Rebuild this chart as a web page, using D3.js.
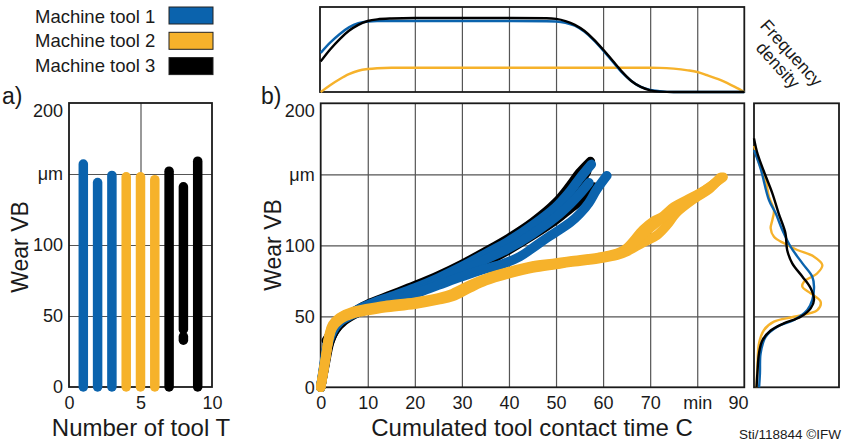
<!DOCTYPE html>
<html>
<head>
<meta charset="utf-8">
<script src="https://cdn.jsdelivr.net/npm/d3@7"></script>
<style>
  body { margin: 0; background: #fff; }
  text { font-family: "Liberation Sans", Arial, sans-serif; fill: #1a1a1a; }
</style>
</head>
<body>
<svg id="chart" width="843" height="441"></svg>
<script>
// machines and colours
const machines = ["Machine tool 1", "Machine tool 2", "Machine tool 3"];
const machineColors = ["#0b63ad", "#f6b22b", "#000000"];

// a) wear range per tool (µm), tool number -> machine
const toolNumbers = [1, 2, 3, 4, 5, 6, 7, 8, 9];
const toolMachine = [0, 0, 0, 1, 1, 1, 2, 2, 2];
const toolWearRanges = [
  [[0, 157]], [[0, 144]], [[0, 149]],
  [[0, 148]], [[0, 148]], [[0, 146]],
  [[0, 152]], [[33, 35.5], [40.5, 141]], [[0, 159]]
];

// b) wear VB over cumulated contact time [min, µm]
const tool1 = [[0,0],[0.8,18],[1.5,32],[2.5,41],[4,47],[6,51],[8,55],[10,58],[15,64],[20,70],[25,77],[30,85],[35,94],[40,103],[45,114],[50,127],[53,138],[55,147],[57.5,157]];
const tool2 = [[0,0],[0.8,16],[1.5,30],[2.5,39],[4,46],[6,50],[8,53],[10,56],[15,62],[20,67],[25,74],[30,82],[35,90],[40,98],[45,108],[50,120],[53,129],[55,136],[57,144]];
const tool3 = [[0,0],[0.8,17],[1.5,31],[2.5,40],[4,46],[6,51],[8,54],[10,56],[15,61],[20,66],[25,72],[30,78],[34.5,83],[38.8,87],[42.3,92],[45,98],[48,105],[53,116],[55,122],[57,130],[58.6,139],[60.8,149]];
const tool4 = [[0,0],[0.5,10],[1,20],[1.8,37],[2.5,44],[4,49],[7,53.5],[10,55.5],[13.6,57.5],[20,60],[25,63],[28,66],[31.7,72],[35,76.5],[40,81.5],[45,85.5],[50,87.5],[53,89],[59,91.5],[63,94.5],[65,98],[68.5,111],[70.7,117],[72.5,120],[75,127],[79,134],[82.7,141],[85,148]];
const tool5 = [[0,0],[0.5,9],[1,19],[1.8,35],[2.5,42],[4,47.5],[7,52],[10,54],[13.6,56],[20,58.5],[25,61.5],[28,64],[31.7,70],[35,75],[40,80],[45,84],[50,86.5],[53,88],[59,90.5],[63,93],[65,95.5],[68.5,102],[71.4,107],[73.5,114],[75.6,123],[79,132],[82.7,140],[84.5,146]];
const tool6 = [[0,0],[0.5,10],[1,20],[1.8,36],[2.5,43],[4,48.5],[7,53],[10,55],[13.6,57],[20,59.5],[25,62.5],[28,65],[31.7,71],[35,76],[40,81],[45,85],[50,87],[53,88.5],[59,91],[63,94],[65,97],[68.5,108],[71,115],[75,125],[79,133],[83,142],[85.5,148]];
const tool7 = [[0,0],[0.8,14],[2,33],[3,40],[5,47],[8,53],[10,56],[15,62],[20,68],[25,75],[30,83],[35,92],[40,101],[45,111],[50,124],[53,135],[55,144],[56.5,152]];
const tool8 = [[1.2,33],[1.8,36],[2.5,41],[4,46],[6,50],[8,53],[10,55],[15,61],[20,67],[25,73],[30,80],[35,88],[40,97],[45,107],[50,118],[53,126],[55,131],[58,141]];
const tool9 = [[0,0],[0.8,15],[1.5,28],[3,40],[5,48],[8,55],[10,58.5],[15,65],[20,71.5],[25,78.5],[30,86.5],[35,95.5],[40,105],[45,116],[50,130],[53,142],[55,151],[57.3,159]];

// frequency density of contact time (top)
const densTime = [0,2,4,6,8,10,12,15,20,30,40,48,50,52,54,56,58,60,62,64,66,68,70,72,75,78,80,82,85,88,90];
const densTimeMT1 = [.46,.58,.68,.76,.81,.83,.835,.835,.835,.835,.835,.833,.83,.815,.78,.71,.61,.49,.36,.23,.13,.06,.025,.01,0,0,0,0,0,0,0];
const densTimeMT2 = [0,.08,.15,.21,.25,.27,.28,.285,.285,.285,.285,.285,.285,.285,.285,.285,.285,.285,.285,.285,.285,.285,.285,.284,.275,.255,.235,.2,.14,.06,0];
const densTimeMT3 = [.36,.5,.62,.72,.79,.835,.855,.865,.87,.87,.87,.868,.86,.835,.79,.72,.62,.5,.37,.24,.13,.06,.02,.005,0,0,0,0,0,0,0];

// frequency density of wear (right) [wear, density]
const densWearMT1 = [[0,.06],[10,.07],[24,.078],[35.6,.137],[42.7,.275],[47.4,.47],[54.4,.627],[61.5,.686],[70.8,.706],[77.9,.686],[87.3,.57],[99,.43],[110.8,.333],[122.5,.255],[131.9,.176],[154,.078],[167,0]];
const densWearMT2 = [[0,.03],[14.5,.04],[31,.059],[40.4,.118],[46.2,.235],[49.7,.47],[54.4,.745],[60.3,.784],[66.2,.667],[70.8,.569],[74.4,.588],[80.3,.745],[86.1,.804],[92,.706],[96.7,.51],[101.4,.353],[106,.235],[112,.196],[117.8,.216],[124.9,.235],[134.2,.176],[146,.137],[157.7,.06],[170,0]];
const densWearMT3 = [[0,.03],[10,.04],[24,.059],[33,.098],[40,.196],[45,.35],[49.7,.55],[55.6,.667],[61.5,.706],[69.7,.667],[77.9,.57],[87.3,.45],[96.7,.39],[108.5,.37],[122.5,.29],[136.6,.216],[151.8,.118],[164.8,.04],[175.3,0]];

const svg = d3.select("#chart");
svg.append("rect").attr("width", 843).attr("height", 441).attr("fill", "#fff");

const gridColor = "#555";
const tickFont = 18;

// helper: grid lines with an axis, no labels
function grid(g, axis) {
  g.call(axis.tickFormat(""));
  g.select(".domain").remove();
  g.selectAll("line").attr("stroke", gridColor).attr("stroke-width", 1.2);
}
function frame(x0, y0, x1, y1) {
  svg.append("rect").attr("x", x0).attr("y", y0)
    .attr("width", x1 - x0).attr("height", y1 - y0)
    .attr("fill", "none").attr("stroke", "#1a1a1a").attr("stroke-width", 1.8);
}
function labels(g) {
  g.select(".domain").remove();
  g.attr("font-size", tickFont).attr("font-family", "Liberation Sans, Arial, sans-serif");
  g.selectAll("text").attr("fill", "#1a1a1a");
}

// ---------- legend ----------
machines.forEach((m, i) => {
  svg.append("text").attr("x", 35).attr("y", 22.5 + i * 24.7)
    .attr("font-size", 18.5).text(m);
  svg.append("rect").attr("x", 169).attr("y", 7 + i * 25.3)
    .attr("width", 44).attr("height", 17)
    .attr("fill", machineColors[i]).attr("stroke", "#222").attr("stroke-width", 1);
});

// ---------- a) ----------
const xA = d3.scaleLinear().domain([0, 10]).range([69, 212]);
const yA = d3.scaleLinear().domain([0, 200]).range([387, 103]);

svg.append("g").attr("transform", "translate(69,0)")
  .call(grid, d3.axisLeft(yA).tickValues([50, 100, 150]).tickSize(-(212 - 69)));
svg.append("g").attr("transform", "translate(0,387)")
  .call(grid, d3.axisBottom(xA).tickValues([5]).tickSize(-(387 - 103)));
frame(69, 103, 212, 387);

toolNumbers.forEach((t, i) => {
  toolWearRanges[i].forEach(r => {
    svg.append("line")
      .attr("x1", xA(t)).attr("x2", xA(t))
      .attr("y1", yA(r[0])).attr("y2", yA(r[1]))
      .attr("stroke", machineColors[toolMachine[i]])
      .attr("stroke-width", 9.5).attr("stroke-linecap", "round");
  });
});

const yAxisA = svg.append("g").attr("transform", "translate(69,0)")
  .call(d3.axisLeft(yA).tickValues([0, 50, 100, 150, 200])
    .tickFormat(d => d === 150 ? "μm" : d).tickSize(0).tickPadding(6));
labels(yAxisA);
yAxisA.selectAll("text").filter(d => d === 200).attr("dy", "0.76em");

const xAxisA = svg.append("g").attr("transform", "translate(0,387)")
  .call(d3.axisBottom(xA).tickValues([0, 5, 10]).tickSize(0).tickPadding(9));
labels(xAxisA);

svg.append("text").attr("transform", "translate(28,247) rotate(-90)")
  .attr("text-anchor", "middle").attr("font-size", 23).text("Wear VB");
svg.append("text").attr("x", 141).attr("y", 436)
  .attr("text-anchor", "middle").attr("font-size", 24).text("Number of tool T");
svg.append("text").attr("x", 2).attr("y", 104).attr("font-size", 23).text("a)");

// ---------- b) main ----------
const xB = d3.scaleLinear().domain([0, 90]).range([320.7, 744.3]);
const yB = d3.scaleLinear().domain([0, 200]).range([387.3, 103.3]);

svg.append("g").attr("transform", "translate(320.7,0)")
  .call(grid, d3.axisLeft(yB).tickValues([50, 100, 150]).tickSize(-(744.3 - 320.7)));
svg.append("g").attr("transform", "translate(0,387.3)")
  .call(grid, d3.axisBottom(xB).tickValues(d3.range(10, 90, 10)).tickSize(-(387.3 - 103.3)));
frame(320.7, 103.3, 744.3, 387.3);

const wearLine = d3.line()
  .x(d => xB(d[0])).y(d => yB(d[1]))
  .curve(d3.curveCatmullRom.alpha(0.5));

const curves = [
  { data: tool7, m: 2 }, { data: tool8, m: 2 }, { data: tool9, m: 2 },
  { data: tool1, m: 0 }, { data: tool2, m: 0 }, { data: tool3, m: 0 },
  { data: tool4, m: 1 }, { data: tool5, m: 1 }, { data: tool6, m: 1 }
];
svg.append("g").selectAll("path").data(curves).join("path")
  .attr("d", d => wearLine(d.data))
  .attr("fill", "none")
  .attr("stroke", d => machineColors[d.m])
  .attr("stroke-width", 9.5)
  .attr("stroke-linecap", "round").attr("stroke-linejoin", "round");

const yAxisB = svg.append("g").attr("transform", "translate(320.7,0)")
  .call(d3.axisLeft(yB).tickValues([0, 50, 100, 150, 200])
    .tickFormat(d => d === 150 ? "μm" : d).tickSize(0).tickPadding(6));
labels(yAxisB);
yAxisB.selectAll("text").filter(d => d === 200).attr("dy", "0.76em");

const xAxisB = svg.append("g").attr("transform", "translate(0,387.3)")
  .call(d3.axisBottom(xB).tickValues(d3.range(0, 100, 10))
    .tickFormat(d => d === 80 ? "min" : d).tickSize(0).tickPadding(9));
labels(xAxisB);
xAxisB.selectAll("text").filter(d => d === 90).attr("dx", "-0.35em");

svg.append("text").attr("transform", "translate(281,245) rotate(-90)")
  .attr("text-anchor", "middle").attr("font-size", 23).text("Wear VB");
svg.append("text").attr("x", 532).attr("y", 436)
  .attr("text-anchor", "middle").attr("font-size", 24).text("Cumulated tool contact time C");
svg.append("text").attr("x", 261).attr("y", 104).attr("font-size", 23).text("b)");

// ---------- b) top density ----------
const yT = d3.scaleLinear().domain([0, 1]).range([92, 7]);
svg.append("g").attr("transform", "translate(0,92)")
  .call(grid, d3.axisBottom(xB).tickValues(d3.range(10, 90, 10)).tickSize(-(92 - 7)));
frame(320, 7, 744.3, 92);

const topLine = d3.line()
  .x((d, i) => xB(densTime[i])).y(d => yT(d))
  .curve(d3.curveMonotoneX);
[densTimeMT2, densTimeMT1, densTimeMT3].forEach((s, k) => {
  svg.append("path").attr("d", topLine(s)).attr("fill", "none")
    .attr("stroke", machineColors[[1, 0, 2][k]]).attr("stroke-width", 2.4);
});

// ---------- b) right density ----------
const xR = d3.scaleLinear().domain([0, 1]).range([754, 839]);
svg.append("g").attr("transform", "translate(754,0)")
  .call(grid, d3.axisLeft(yB).tickValues([50, 100, 150]).tickSize(-(839 - 754)));
frame(754, 103.3, 839, 387.3);

const rightLine = d3.line()
  .x(d => xR(d[1])).y(d => yB(d[0]))
  .curve(d3.curveCatmullRom.alpha(0.5));
[[densWearMT2, 1], [densWearMT1, 0], [densWearMT3, 2]].forEach(([s, m]) => {
  svg.append("path").attr("d", rightLine(s)).attr("fill", "none")
    .attr("stroke", machineColors[m]).attr("stroke-width", 2.4);
});

// rotated title
const ft = svg.append("text").attr("font-size", 17.5).attr("text-anchor", "middle")
  .attr("transform", "translate(787,57) rotate(48)");
ft.append("tspan").attr("x", 0).attr("y", 0).text("Frequency");
ft.append("tspan").attr("x", 0).attr("y", 18).text("density");

svg.append("text").attr("x", 841).attr("y", 439).attr("text-anchor", "end")
  .attr("font-size", 13.5).text("Sti/118844 ©IFW");
</script>
</body>
</html>
